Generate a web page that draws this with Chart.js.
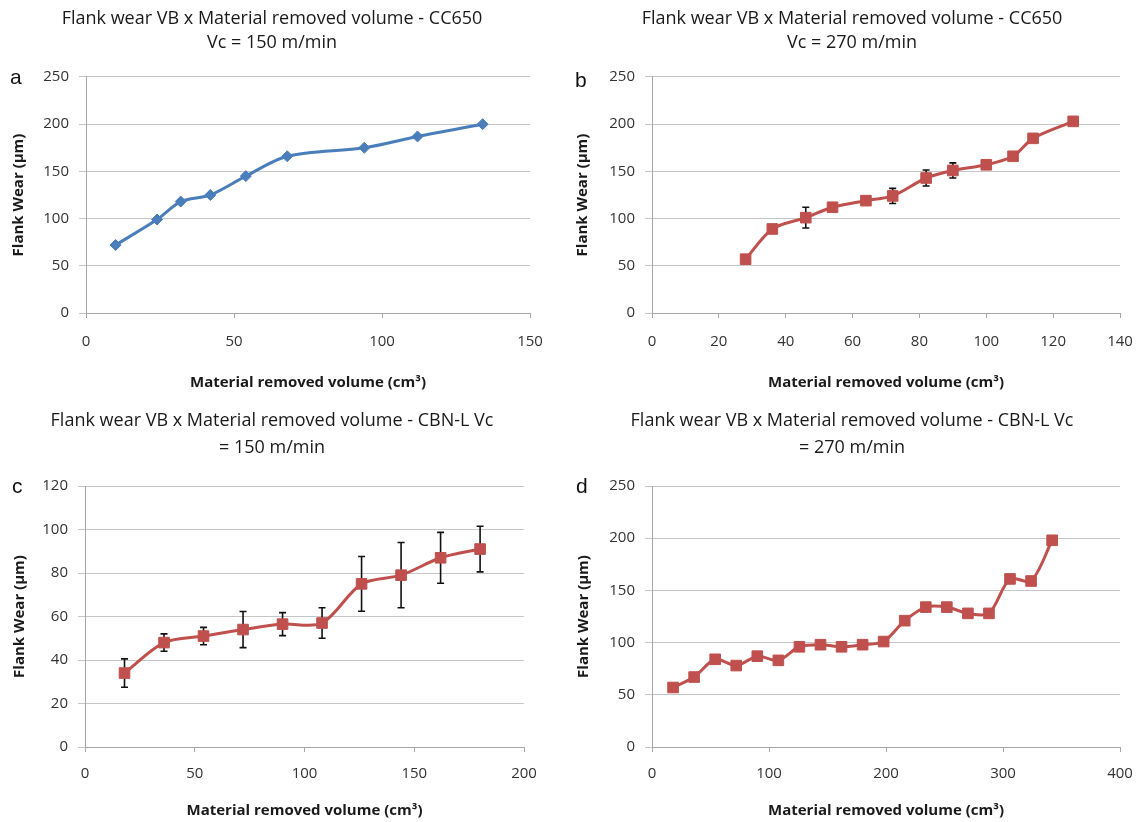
<!DOCTYPE html>
<html>
<head>
<meta charset="utf-8">
<script src="https://cdn.jsdelivr.net/npm/chart.js@4.4.1/dist/chart.umd.min.js"></script>
<style>
body { margin: 0; background: #fff; }
#wrap { position: relative; width: 1137px; height: 822px; overflow: hidden; }
canvas { position: absolute; }
.lbl { position: absolute; font-family: 'Liberation Sans', Arial, sans-serif; font-size: 21px; line-height: 21px; color: #111; }
</style>
</head>
<body>
<div id="wrap">
  <canvas id="chartA" width="544" height="400" style="left:0;top:0"></canvas>
  <canvas id="chartB" width="564" height="400" style="left:570px;top:0"></canvas>
  <canvas id="chartC" width="544" height="422" style="left:0;top:400px"></canvas>
  <canvas id="chartD" width="564" height="422" style="left:570px;top:400px"></canvas>
  <div class="lbl" style="left:10px;top:66px">a</div>
  <div class="lbl" style="left:575px;top:69px">b</div>
  <div class="lbl" style="left:12px;top:475px">c</div>
  <div class="lbl" style="left:576px;top:475px">d</div>
</div>
<script>
// data
var volA = [10, 24, 32, 42, 54, 68, 94, 112, 134];
var wearA = [72, 99, 118, 125, 145, 166, 175, 187, 200];

var volB = [28, 36, 46, 54, 64, 72, 82, 90, 100, 108, 114, 126];
var wearB = [57, 89, 101, 112, 119, 124, 143, 151, 157, 166, 185, 203];
var errB = [0, 0, 11, 0, 0, 8, 8.5, 8, 0, 0, 0, 0];

var volC = [18, 36, 54, 72, 90, 108, 126, 144, 162, 180];
var wearC = [34, 48, 51, 54, 56.5, 57, 75, 79, 87, 91];
var errC = [6.5, 4, 4, 8.3, 5.3, 7, 12.6, 15, 11.7, 10.5];

var volD = [18, 36, 54, 72, 90, 108, 126, 144, 162, 180, 198, 216, 234, 252, 270, 288, 306, 324, 342];
var wearD = [57, 67, 84, 78, 87, 83, 96, 98, 96, 98, 101, 121, 134, 134, 128, 128, 161, 159, 198];

var xTicksA = [0, 50, 100, 150];
var xTicksB = [0, 20, 40, 60, 80, 100, 120, 140];
var xTicksC = [0, 50, 100, 150, 200];
var xTicksD = [0, 100, 200, 300, 400];
var yTicks250 = [0, 50, 100, 150, 200, 250];
var yTicks120 = [0, 20, 40, 60, 80, 100, 120];

var titleA = ['Flank wear VB x Material removed volume - CC650', 'Vc = 150 m/min'];
var titleB = ['Flank wear VB x Material removed volume - CC650', 'Vc = 270 m/min'];
var titleC = ['Flank wear VB x Material removed volume - CBN-L Vc', '= 150 m/min'];
var titleD = ['Flank wear VB x Material removed volume - CBN-L Vc', '= 270 m/min'];

var xLabel = 'Material removed volume (cm\u00b3)';
var yLabel = 'Flank Wear (\u00b5m)';

var blue = '#4a7ebb';
var red = '#c0504d';
var gridColor = '#c6c6c6';
var axisColor = '#a6a6a6';

Chart.defaults.font.family = '"Open Sans", sans-serif';
Chart.defaults.color = '#333';

var errorBars = {
	id: 'errorBars',
	beforeDatasetsDraw: function(chart, args, opts){
		var err = opts.values;
		if(!err) return;
		var pts = chart.data.datasets[0].data;
		var sx = chart.scales.x, sy = chart.scales.y;
		var ctx = chart.ctx;
		ctx.save();
		ctx.strokeStyle = '#111';
		ctx.lineWidth = 1.6;
		for(var i=0;i<err.length;i++){
			if(!err[i]) continue;
			var px = sx.getPixelForValue(pts[i].x);
			var top = sy.getPixelForValue(pts[i].y + err[i]);
			var bot = sy.getPixelForValue(pts[i].y - err[i]);
			ctx.beginPath();
			ctx.moveTo(px, top); ctx.lineTo(px, bot);
			ctx.moveTo(px-3.5, top); ctx.lineTo(px+3.5, top);
			ctx.moveTo(px-3.5, bot); ctx.lineTo(px+3.5, bot);
			ctx.stroke();
		}
		ctx.restore();
	}
};

function makeChart(id, p){
	var pts = [];
	for(var i=0;i<p.vol.length;i++){
		pts.push({x: p.vol[i], y: p.wear[i]});
	}
	var xt = p.xTicks, yt = p.yTicks;
	return new Chart(document.getElementById(id), {
		type: 'line',
		data: {
			datasets: [{
				data: pts,
				borderColor: p.color,
				backgroundColor: p.color,
				borderWidth: 3,
				pointStyle: p.marker,
				pointRadius: p.radius,
				pointBorderWidth: 1,
				tension: 0.3
			}]
		},
		plugins: [errorBars],
		options: {
			responsive: false,
			animation: false,
			events: [],
			layout: { padding: 0 },
			plugins: {
				legend: { display: false },
				tooltip: { enabled: false },
				errorBars: { values: p.err },
				title: {
					display: true,
					text: p.title,
					color: '#1a1a1a',
					font: { size: 18, weight: 'normal', lineHeight: p.titleLH },
					padding: p.titlePad
				}
			},
			scales: {
				x: {
					type: 'linear',
					min: xt[0], max: xt[xt.length-1],
					// tick padding also widens the side padding, so the label drop comes from lineHeight
					ticks: { stepSize: xt[1]-xt[0], padding: 0, font: { size: 15, lineHeight: p.xTickLH }, color: '#333', maxRotation: 0 },
					grid: { drawOnChartArea: false, drawTicks: true, tickLength: 5, color: axisColor },
					border: { color: axisColor, width: 1 },
					title: { display: true, text: xLabel, color: '#1a1a1a', font: { size: 15, weight: 'bold' }, padding: { top: 0, bottom: p.xTitlePad } },
					afterFit: function(s){ s.height = p.xAxisH; }
				},
				y: {
					type: 'linear',
					min: yt[0], max: yt[yt.length-1],
					ticks: { stepSize: yt[1]-yt[0], padding: 10, font: { size: 15 }, color: '#333' },
					grid: { color: gridColor, drawTicks: true, tickLength: 7 },
					border: { color: axisColor, width: 1 },
					title: { display: true, text: yLabel, color: '#1a1a1a', font: { size: 15, weight: 'bold' }, padding: { top: p.yTitlePad, bottom: 0 } },
					afterFit: function(s){ s.width = p.yAxisW; }
				},
				pad: {
					type: 'linear',
					axis: 'y',
					position: 'right',
					grid: { display: false, drawTicks: false },
					border: { display: false },
					ticks: { display: false },
					afterFit: function(s){ s.width = p.rightW; }
				}
			}
		}
	});
}

makeChart('chartA', {
	vol: volA, wear: wearA, err: null, color: blue, marker: 'rectRot', radius: 5.5,
	xTicks: xTicksA, yTicks: yTicks250, title: titleA, titleLH: 1.333,
	titlePad: { top: 7, bottom: 22 }, xTickLH: 3.2, xTitlePad: 8, xAxisH: 87,
	yTitlePad: 10, yAxisW: 86, rightW: 14
});
makeChart('chartB', {
	vol: volB, wear: wearB, err: errB, color: red, marker: 'rect', radius: 7.5,
	xTicks: xTicksB, yTicks: yTicks250, title: titleB, titleLH: 1.333,
	titlePad: { top: 7, bottom: 22 }, xTickLH: 3.2, xTitlePad: 8, xAxisH: 87,
	yTitlePad: 4, yAxisW: 82, rightW: 14
});
makeChart('chartC', {
	vol: volC, wear: wearC, err: errC, color: red, marker: 'rect', radius: 7.5,
	xTicks: xTicksC, yTicks: yTicks120, title: titleC, titleLH: 1.5,
	titlePad: { top: 7.5, bottom: 24.5 }, xTickLH: 2.93, xTitlePad: 2, xAxisH: 75,
	yTitlePad: 10.4, yAxisW: 85, rightW: 20
});
makeChart('chartD', {
	vol: volD, wear: wearD, err: null, color: red, marker: 'rect', radius: 7.5,
	xTicks: xTicksD, yTicks: yTicks250, title: titleD, titleLH: 1.5,
	titlePad: { top: 7.5, bottom: 24.5 }, xTickLH: 2.93, xTitlePad: 2, xAxisH: 75,
	yTitlePad: 4.7, yAxisW: 82, rightW: 14
});
</script>
</body>
</html>
